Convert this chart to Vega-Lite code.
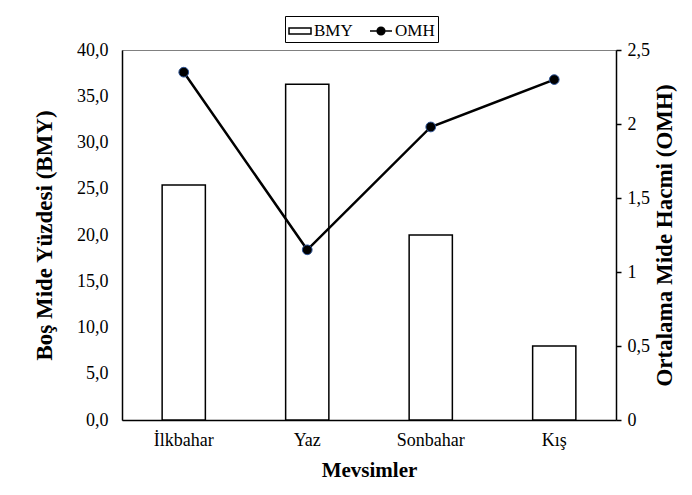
{
  "$schema": "https://vega.github.io/schema/vega-lite/v6.json",
  "width": 494,
  "height": 370,
  "autosize": "none",
  "padding": {"left": 122, "top": 50, "right": 74, "bottom": 73},
  "background": "white",
  "config": {
    "font": "Liberation Serif",
    "view": {"stroke": "#808080", "strokeWidth": 1},
    "axis": {
      "labelFont": "Liberation Serif",
      "labelFontSize": 18,
      "labelColor": "black",
      "titleFont": "Liberation Serif",
      "titleFontSize": 23,
      "titleFontWeight": "bold",
      "titleColor": "black",
      "domainColor": "black",
      "domainWidth": 1.5,
      "tickColor": "black",
      "grid": false
    }
  },
  "data": {
    "values": [
      {"season": "İlkbahar", "bmy": 25.4, "omh": 2.35},
      {"season": "Yaz", "bmy": 36.3, "omh": 1.15},
      {"season": "Sonbahar", "bmy": 20.0, "omh": 1.98},
      {"season": "Kış", "bmy": 8.0, "omh": 2.30}
    ]
  },
  "encoding": {
    "x": {
      "field": "season",
      "type": "nominal",
      "sort": null,
      "scale": {"paddingInner": 0, "paddingOuter": 0},
      "axis": {
        "labelAngle": 0,
        "ticks": false,
        "labelPadding": 11,
        "title": "Mevsimler",
        "titleFontSize": 21,
        "titlePadding": 10
      }
    }
  },
  "layer": [
    {
      "mark": {"type": "bar", "fill": "white", "stroke": "black", "strokeWidth": 1.5, "width": {"band": 0.35}},
      "encoding": {
        "y": {
          "field": "bmy",
          "type": "quantitative",
          "scale": {"domain": [0, 40]},
          "axis": {
            "orient": "left",
            "values": [0, 5, 10, 15, 20, 25, 30, 35, 40],
            "labelExpr": "replace(format(datum.value, '.1f'), '.', ',')",
            "ticks": false,
            "labelPadding": 14,
            "title": "Boş Mide Yüzdesi (BMY)",
            "titlePadding": 20
          }
        }
      }
    },
    {
      "mark": {
        "type": "line",
        "color": "black",
        "strokeWidth": 2.5,
        "point": {"filled": true, "fill": "black", "stroke": "#2f5597", "strokeWidth": 1, "size": 95, "opacity": 1}
      },
      "encoding": {
        "y": {
          "field": "omh",
          "type": "quantitative",
          "scale": {"domain": [0, 2.5]},
          "axis": {
            "orient": "right",
            "values": [0, 0.5, 1, 1.5, 2, 2.5],
            "labelExpr": "replace(format(datum.value, '~g'), '.', ',')",
            "ticks": true,
            "tickSize": 5,
            "tickWidth": 1.5,
            "labelPadding": 6,
            "title": "Ortalama Mide Hacmi (OMH)",
            "titleAngle": 270,
            "titleBaseline": "top",
            "titlePadding": 4
          }
        }
      }
    },
    {
      "data": {"values": [{"series": "BMY"}, {"series": "OMH"}]},
      "transform": [{"filter": "datum.series == 'none'"}],
      "mark": {"type": "point", "filled": true, "stroke": "black", "strokeWidth": 1.5, "opacity": 1, "size": 484},
      "encoding": {
        "shape": {
          "field": "series",
          "type": "nominal",
          "scale": {
            "domain": ["BMY", "OMH"],
            "range": ["M-1,-0.27H1V0.27H-1Z", "M-1,0H-0.35A0.35,0.35 0 1,1 0.35,0A0.35,0.35 0 1,1 -0.35,0M0.35,0H1"]
          },
          "legend": {
            "orient": "none",
            "legendX": 163,
            "legendY": -34,
            "direction": "horizontal",
            "title": null,
            "strokeColor": "black",
            "padding": 3,
            "labelFont": "Liberation Serif",
            "labelFontSize": 17,
            "labelColor": "black",
            "symbolSize": 484,
            "columnPadding": 14,
            "labelOffset": 2,
            "encode": {
              "symbols": {
                "update": {
                  "size": {"value": 484},
                  "stroke": {"value": "black"},
                  "strokeWidth": {"value": 1.5},
                  "opacity": {"value": 1}
                }
              }
            }
          }
        },
        "fill": {
          "field": "series",
          "type": "nominal",
          "scale": {"domain": ["BMY", "OMH"], "range": ["white", "black"]}
        }
      }
    }
  ],
  "resolve": {"scale": {"y": "independent"}}
}
